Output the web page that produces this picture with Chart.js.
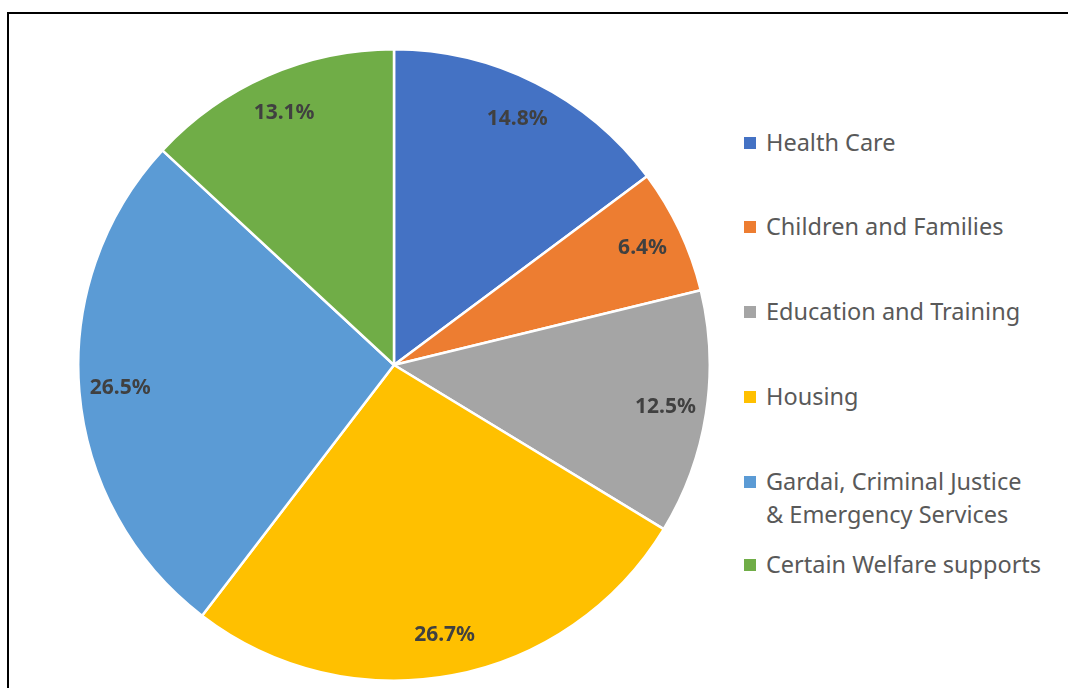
<!DOCTYPE html>
<html>
<head>
<meta charset="utf-8">
<script src="https://cdn.jsdelivr.net/npm/chart.js@4.4.0/dist/chart.umd.min.js"></script>
<style>
  body { margin: 0; background: #fff; width: 1068px; height: 688px; overflow: hidden; position: relative; }
  #frame { position: absolute; left: 7px; top: 12px; width: 1200px; height: 800px; border: 2px solid #000; box-shadow: 1px 1px 1px #aaa; }
  #pieBox { position: absolute; left: 77px; top: 48px; width: 634px; height: 634px; }
  .legend-item { position: absolute; left: 744px; font-family: "Noto Sans", sans-serif; font-size: 23.5px; color: #595959; line-height: 33px; }
  .legend-item .swatch { position: absolute; left: 0; top: 11px; width: 12px; height: 12px; }
  .legend-item .txt { margin-left: 22px; white-space: nowrap; }
</style>
</head>
<body>
<div id="frame"></div>
<div id="pieBox"><canvas id="pieChart"></canvas></div>
<div id="legend"></div>
<script>
const categories = [
  "Health Care",
  "Children and Families",
  "Education and Training",
  "Housing",
  ["Gardai, Criminal Justice", "& Emergency Services"],
  "Certain Welfare supports"
];
const shares = [14.8, 6.4, 12.5, 26.7, 26.5, 13.1];
const colors = ["#4472C4", "#ED7D31", "#A5A5A5", "#FFC000", "#5B9BD5", "#70AD47"];

// top of each legend entry (first line)
const legendTops = [126, 210, 295, 380, 465, 548];

// percentage labels drawn inside each slice, near the rim
const sliceLabels = {
  id: "sliceLabels",
  afterDatasetsDraw(chart) {
    const ctx = chart.ctx;
    const meta = chart.getDatasetMeta(0);
    ctx.save();
    ctx.font = "bold 21px 'Noto Sans', sans-serif";
    ctx.fillStyle = "#404040";
    ctx.textAlign = "center";
    ctx.textBaseline = "middle";
    meta.data.forEach((arc, i) => {
      const p = arc.getProps(["x", "y", "startAngle", "endAngle", "outerRadius"], true);
      const mid = (p.startAngle + p.endAngle) / 2;
      const r = p.outerRadius * 0.87;
      ctx.fillText(shares[i].toFixed(1) + "%", p.x + Math.cos(mid) * r, p.y + Math.sin(mid) * r);
    });
    ctx.restore();
  }
};

new Chart(document.getElementById("pieChart"), {
  type: "pie",
  data: {
    labels: categories,
    datasets: [{
      data: shares,
      backgroundColor: colors,
      borderColor: "#ffffff",
      borderWidth: 2.5
    }]
  },
  options: {
    responsive: true,
    maintainAspectRatio: false,
    animation: false,
    layout: { padding: 0 },
    plugins: {
      legend: { display: false },
      tooltip: { enabled: false }
    }
  },
  plugins: [sliceLabels]
});

// legend on the right
const legend = document.getElementById("legend");
categories.forEach((cat, i) => {
  const item = document.createElement("div");
  item.className = "legend-item";
  item.style.top = legendTops[i] + "px";
  const sw = document.createElement("div");
  sw.className = "swatch";
  sw.style.background = colors[i];
  const txt = document.createElement("div");
  txt.className = "txt";
  txt.innerHTML = (Array.isArray(cat) ? cat : [cat]).join("<br>");
  item.appendChild(sw);
  item.appendChild(txt);
  legend.appendChild(item);
});
</script>
</body>
</html>
